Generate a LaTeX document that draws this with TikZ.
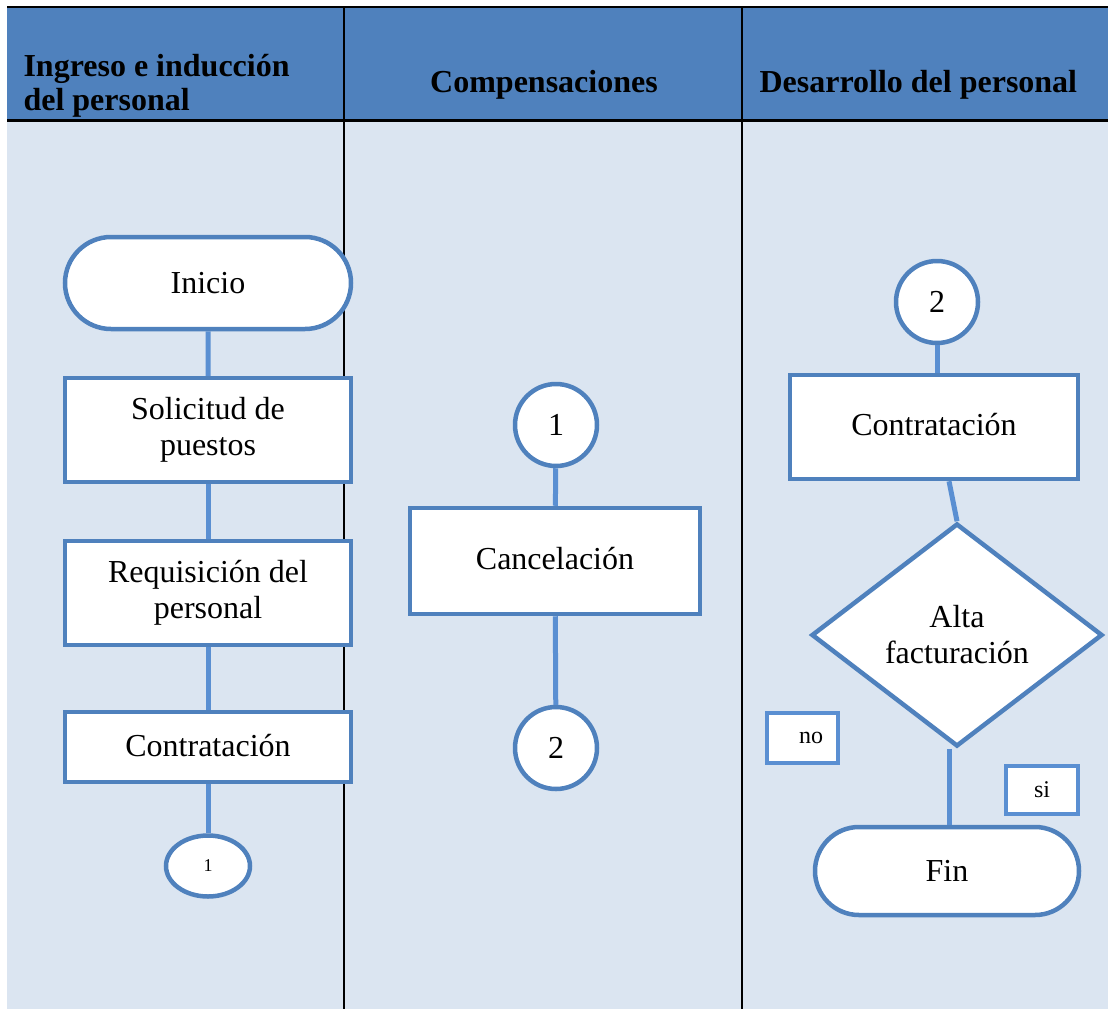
\documentclass[tikz,border=0pt]{standalone}
\usepackage{fontspec}
\setmainfont{Liberation Serif}
\usepackage{xcolor}
\usepackage{tikz}
\usetikzlibrary{shapes}
\usetikzlibrary{calc}
\definecolor{head_blue}{HTML}{4F81BD}
\definecolor{lane_blue}{HTML}{DBE5F1}
\definecolor{edge_blue}{HTML}{4F81BD}
\definecolor{link_blue}{HTML}{5A8FD2}
\tikzset{ base_node/.style = {draw=edge_blue, line width=4.5pt, fill=white, align=center, inner sep=0pt, font=\fontsize{32}{36}\selectfont} }
\tikzset{ proc_box/.style = {base_node, rectangle, minimum width=286pt, minimum height=104pt} }
\tikzset{ term_box/.style = {base_node, rounded rectangle, minimum height=92pt} }
\tikzset{ conn_circ/.style = {base_node, circle, minimum size=82pt} }
\tikzset{ dec_box/.style = {base_node, diamond, aspect=1.3, minimum width=291pt, minimum height=223pt} }
\tikzset{ lbl_box/.style = {draw=link_blue, line width=4pt, fill=white, inner sep=0pt, font=\fontsize{24}{28}\selectfont} }
\tikzset{ lane_head/.style = {font=\bfseries\fontsize{32}{34}\selectfont, align=left} }
\tikzset{ flow/.style = {draw=link_blue, line width=5pt} }
\begin{document}
\begin{tikzpicture}[x=1pt, y=-1pt]
        \useasboundingbox (0,0) rectangle (1108,1009);
        \fill[lane_blue] (7,120) rectangle (1108,1009);
        \fill[head_blue] (7,7) rectangle (1108,120);
        \draw[line width=1.5pt] (7,7) -- (1108,7);
        \draw[line width=3pt] (7,120) -- (1108,120);
        \draw[line width=1.5pt] (344,7) -- (344,1009);
        \draw[line width=2.5pt] (742,7) -- (742,1009);
        \node[lane_head, anchor=west] (h_ingreso) at (20,86) {Ingreso e inducción\\del personal};
        \node[lane_head] (h_comp) at (544,85) {Compensaciones};
        \node[lane_head, anchor=west] (h_desa) at (756,85) {Desarrollo del personal};

        \node[term_box, minimum width=286pt] (inicio) at (208,283) {Inicio};
        \node[proc_box] (solicitud) at (208,430) {Solicitud de\\puestos};
        \node[proc_box] (requisicion) at (208,593) {Requisición del\\personal};
        \node[proc_box, minimum height=70pt] (contrat_a) at (208,747) {\raisebox{3pt}{Contratación}};
        \node[base_node, ellipse, minimum width=84pt, minimum height=61pt, font=\fontsize{18}{20}\selectfont] (uno_a) at (208,866) {1};
        \draw[flow] (inicio) to (solicitud);
        \draw[flow] (solicitud) to (requisicion);
        \draw[flow] (requisicion) to (contrat_a);
        \draw[flow] (contrat_a) to (uno_a);

        \node[conn_circ] (uno_b) at (556,425) {1};
        \node[proc_box, minimum width=290pt, minimum height=106pt] (cancel) at (555,561) {\raisebox{5pt}{Cancelación}};
        \node[conn_circ] (dos_b) at (556,748) {2};
        \draw[flow] (uno_b) to (cancel);
        \draw[flow] (cancel) to (dos_b);

        \node[conn_circ] (dos_c) at (937,302) {2};
        \node[proc_box, minimum width=288pt] (contrat_c) at (934,427) {\raisebox{6pt}{Contratación}};
        \node[dec_box] (alta) at (957,635) {Alta\\facturación};
        \node[lbl_box, minimum width=71pt, minimum height=50pt] (no) at (802,738) {\hspace*{18pt}\raisebox{-5pt}{no}};
        \node[lbl_box, minimum width=72pt, minimum height=48pt] (si) at (1042,790) {\raisebox{-7pt}{si}};
        \node[term_box, minimum width=264pt, minimum height=88pt] (fin) at (947,871) {Fin};
        \draw[flow] (dos_c) to (dos_c |- contrat_c.north);
        \draw[flow] ([xshift=15pt]contrat_c.south) to (alta.north);
        \draw[flow] ([xshift=-8pt]alta.south) to ([xshift=2pt]fin.north);
\end{tikzpicture}
\end{document}
